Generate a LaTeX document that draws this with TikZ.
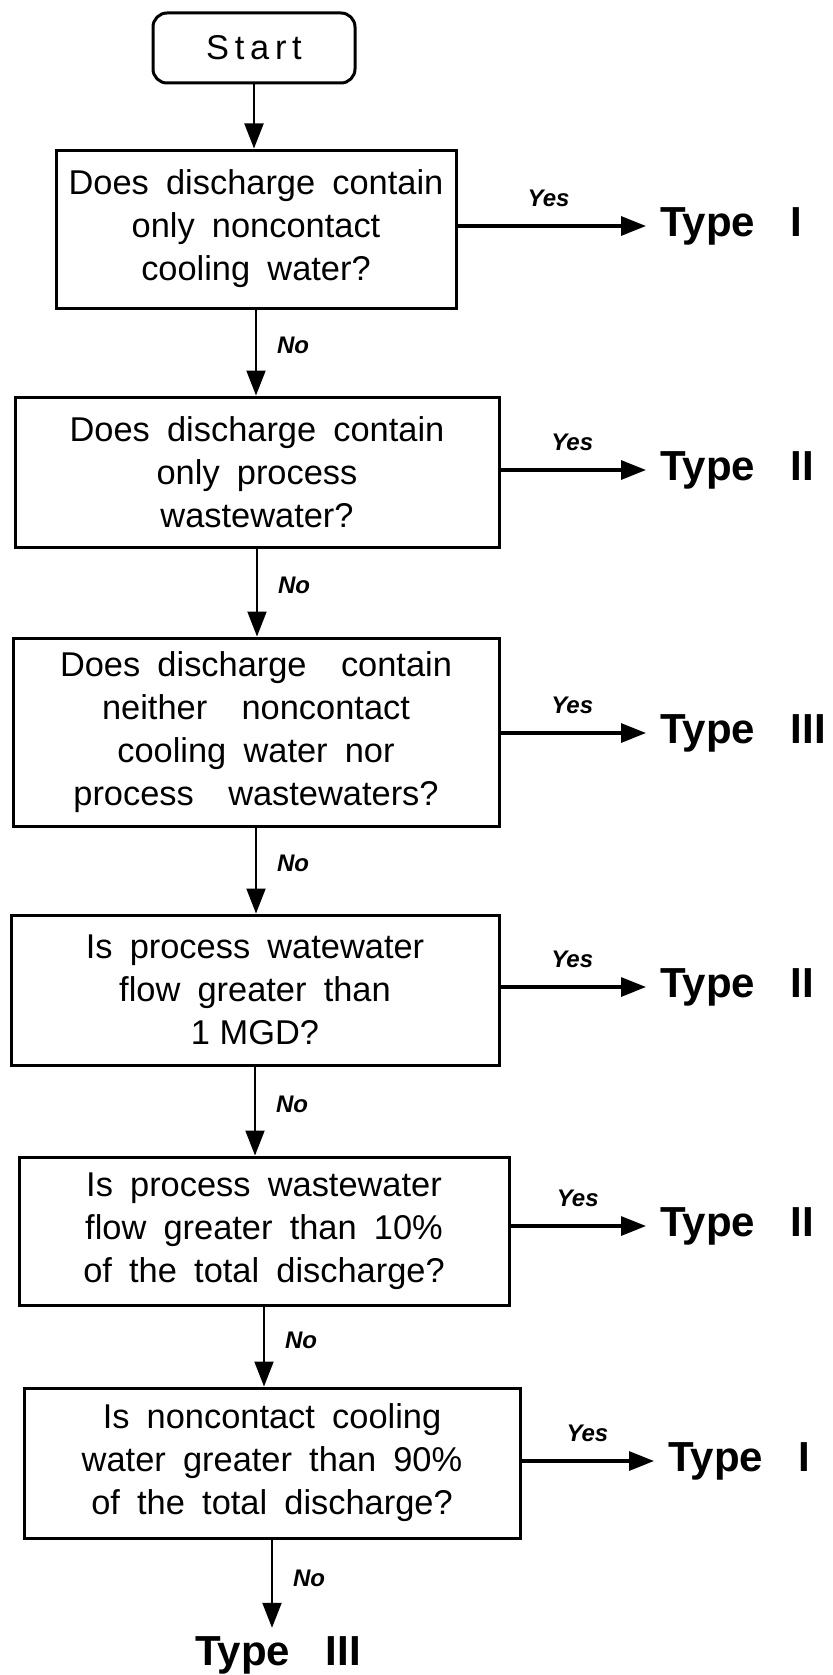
\documentclass[tikz,border=0pt]{standalone}
\usepackage{fontspec}
\setmainfont{Liberation Sans}[WordSpace=1.8]
\usepackage{xcolor}
\definecolor{Black}{HTML}{000000}
\definecolor{White}{HTML}{FFFFFF}
\usetikzlibrary{arrows.meta}
\tikzset{
  every picture/.style={font={\fontsize{17.2}{21.5}\selectfont}, >={Triangle[length=12.5pt, width=9.5pt]}},
  startbox/.style={draw=Black, line width=1.5pt, rounded corners=7pt, minimum width=101pt, minimum height=35pt},
  question/.style={draw=Black, line width=1.5pt, align=center, inner sep=0pt},
  answer/.style={font={\fontsize{21}{24}\selectfont\bfseries}, inner sep=0pt},
  yesno/.style={font={\fontsize{12}{14}\selectfont\bfseries\itshape}, inner sep=1pt},
  noline/.style={draw=Black, line width=1pt, ->},
  yesline/.style={draw=Black, line width=1.6pt, ->, shorten >=7pt}}

\begin{document}
\begin{tikzpicture}[x=0.5pt, y=-0.5pt]
    \useasboundingbox[fill=White] (0,0) rectangle (833,1675);

    \node[startbox] (start) at (254,48) {S\,t\,a\,r\,t};

    \node[question, minimum width=200pt, minimum height=79pt] (q1) at (256,229)
      {Does discharge contain\\ only noncontact\\ cooling water?};
    \node[question, minimum width=242pt, minimum height=75pt] (q2) at (257,472)
      {Does discharge contain\\ only process\\ wastewater?};
    \node[question, minimum width=243pt, minimum height=94pt] (q3) at (256,732)
      {Does discharge\ \ contain\\ neither\ \ noncontact\\ cooling water nor\\ process\ \ wastewaters?};
    \node[question, minimum width=244pt, minimum height=75pt] (q4) at (255,990)
      {Is process watewater\\ flow greater than\\ 1\hspace{.28em}MGD?};
    \node[question, minimum width=245pt, minimum height=74pt] (q5) at (264,1231)
      {Is process wastewater\\ flow greater than 10\%\\ of the total discharge?};
    \node[question, minimum width=248pt, minimum height=75pt] (q6) at (272,1463)
      {Is noncontact cooling\\ water greater than 90\%\\ of the total discharge?};

    % answers on the right
    \node[answer, anchor=west] (t1) at (660,226) {Type\hspace{.85em}I};
    \node[answer, anchor=west] (t2) at (660,470) {Type\hspace{.85em}II};
    \node[answer, anchor=west] (t3) at (660,733) {Type\hspace{.85em}III};
    \node[answer, anchor=west] (t4) at (660,987) {Type\hspace{.85em}II};
    \node[answer, anchor=west] (t5) at (660,1226) {Type\hspace{.85em}II};
    \node[answer, anchor=west] (t6) at (668,1461) {Type\hspace{.85em}I};
    \node[answer] (t7) at (278,1655) {Type\hspace{.85em}III};

    \draw[noline] (start) -- (start |- q1.north);
    \foreach \a/\b in {q1/q2, q2/q3, q3/q4, q4/q5, q5/q6} {
      \draw[noline] (\a.south) -- (\a.south |- \b.north)
        node[yesno, right=9pt, pos=0.42] {No};
    }
    \draw[noline, shorten >=4pt] (q6.south) -- (q6.south |- t7.north)
      node[yesno, right=9pt, pos=0.4] {No};

    \foreach \q/\t in {q1/t1, q2/t2, q3/t3, q4/t4, q5/t5, q6/t6} {
      \draw[yesline] (\q.east |- \t.west) -- (\t.west)
        node[yesno, above=8pt, pos=0.45] {Yes};
    }
  \end{tikzpicture}
\end{document}
